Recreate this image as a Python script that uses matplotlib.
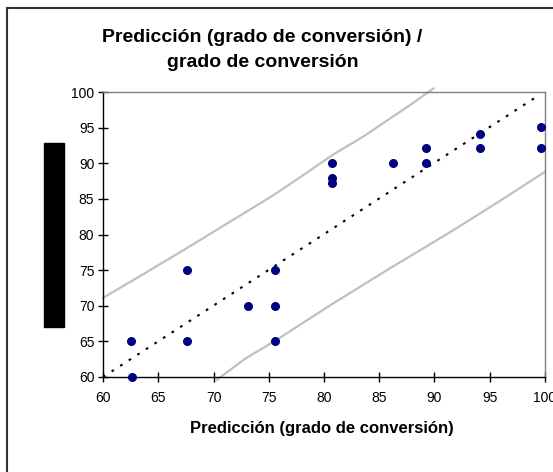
import matplotlib.pyplot as plt
from matplotlib.patches import Rectangle

plt.rcParams['font.family'] = ['Liberation Sans', 'DejaVu Sans']

# observed vs predicted conversion
pred_x = [62.5, 62.6, 67.6, 67.6, 73.1, 75.6, 75.6, 75.6, 80.7, 80.7, 80.7,
          86.2, 89.2, 89.2, 94.1, 94.1, 99.6, 99.6]
grado_y = [65.0, 60.0, 75.0, 65.0, 70.0, 70.0, 75.0, 65.0, 90.0, 88.0, 87.2,
           90.0, 92.1, 90.0, 94.1, 92.1, 95.1, 92.1]

# ideal line
ideal_x = [60, 99.5]
ideal_y = [60, 99.6]

# band lines
upper_x = [60.0, 63.5, 67.6, 71.5, 75.4, 78.0, 80.8, 83.5, 86.0, 88.0, 89.9]
upper_y = [71.1, 74.3, 78.1, 81.8, 85.5, 88.2, 91.2, 93.7, 96.3, 98.4, 100.5]
lower_x = [70.3, 72.8, 75.7, 78.2, 80.8, 83.2, 85.7, 88.7, 91.7, 96.0, 100.0]
lower_y = [59.6, 62.5, 65.2, 67.7, 70.3, 72.6, 75.0, 77.8, 80.6, 84.8, 88.8]

ticks = [60, 65, 70, 75, 80, 85, 90, 95, 100]

fig = plt.figure(figsize=(5.53, 4.72), dpi=100, facecolor='w')
ax = fig.add_axes([0.1863, 0.2013, 0.7992, 0.6037])

ax.plot(upper_x, upper_y, color='#c0c0c0', lw=1.6, clip_on=False, zorder=2)
ax.plot(lower_x, lower_y, color='#c0c0c0', lw=1.6, clip_on=False, zorder=2)
ax.plot(ideal_x, ideal_y, color='black', lw=1.5, linestyle=(0, (1.3, 3.6)), zorder=3)
ax.scatter(pred_x, grado_y, s=30, color='#000080', zorder=4, clip_on=False)

ax.set_xlim(60, 100)
ax.set_ylim(60, 100)
ax.set_xticks(ticks)
ax.set_yticks(ticks)
ax.tick_params(direction='inout', length=6.5, width=1, labelsize=10, colors='black')
ax.tick_params(axis='x', pad=7)
ax.tick_params(axis='y', pad=3)
for s in ['left', 'bottom']:
    ax.spines[s].set_color('black')
    ax.spines[s].set_linewidth(1)
for s in ['top', 'right']:
    ax.spines[s].set_color('#808080')
    ax.spines[s].set_linewidth(1)

fig.text(0.582, 1 - 428 / 472, 'Predicción (grado de conversión)', ha='center', va='center',
         fontsize=12, fontweight='bold')

fig.text(0.4747, 0.921, 'Predicción (grado de conversión) /', ha='center', va='center',
         fontsize=14, fontweight='bold')
fig.text(0.4747, 0.868, 'grado de conversión', ha='center', va='center',
         fontsize=14, fontweight='bold')

# black block covering the y label
fig.patches.append(Rectangle((44 / 553, 1 - 327 / 472), 20 / 553, 184 / 472,
                             transform=fig.transFigure, color='black', zorder=5))
# chart border
fig.patches.append(Rectangle((7 / 553, -0.1), 1.2, 1 - 8 / 472 + 0.1,
                             transform=fig.transFigure, fill=False,
                             edgecolor='#333333', lw=1.5, zorder=5))

plt.savefig('out.png', dpi=100)
